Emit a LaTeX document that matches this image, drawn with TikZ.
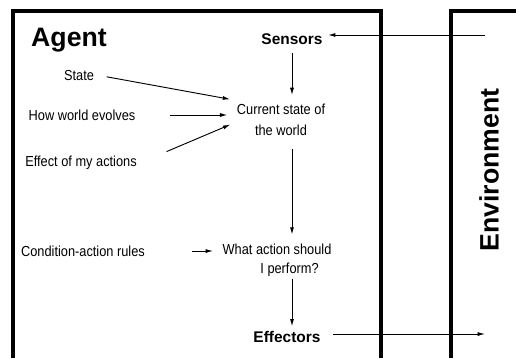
\documentclass[tikz,border=0pt]{standalone}
\usepackage{fontspec}
\setmainfont{Liberation Sans}
\newfontfamily\narrowfont{Liberation Sans}[FakeStretch=0.88]
\usetikzlibrary{arrows.meta,calc,positioning}

\begin{document}
\begin{tikzpicture}[x=0.75pt,y=-0.75pt,>={Latex[length=5.5pt,width=3pt]},
  wall/.style={line width=2.3pt},
  flow/.style={line width=0.7pt,->},
  label/.style={inner sep=2pt,font=\narrowfont\fontsize{10.9}{14.5}\selectfont},
  part/.style={inner sep=2pt,font=\fontsize{11.6}{14}\selectfont\bfseries},
  title/.style={inner sep=0pt,font=\fontsize{20}{24}\selectfont\bfseries}]

\useasboundingbox (0,0) rectangle (516,358);

\coordinate (a0) at (13,358);
\coordinate (a1) at (13,11);
\coordinate (a2) at (381,11);
\coordinate (a3) at (381,358);
\coordinate (e0) at (451,358);
\coordinate (e1) at (451,11);
\coordinate (e2) at (530,11);
\coordinate (envin) at (485,35);
\coordinate (envout) at (485,334);

\draw[wall] (a0)--(a1)--(a2)--(a3);
\draw[wall] (e0)--(e1)--(e2);

\node[title] (agent) at (69,40) {Agent};
\node[title,rotate=90] (env) at (489,170) {Environment};

\node[part] (sensors) at (292,39) {Sensors};
\node[label,align=center] (current) at (281,120) {Current state of\\[1.5pt]the world};
\node[label] (state) at (79,75) {State};
\node[label] (evolve) at (82,115) {How world evolves};
\node[label] (effect) at (81,163) {Effect of my actions};
\node[label] (rules) at (83,251) {Condition-action rules};
\node[label,align=left] (action) at (277,260) {What action should\\\hspace*{2.6em}I perform?};
\node[part] (effectors) at (287,337) {Effectors};

\draw[flow,shorten >=2pt] (envin) -- (envin -| sensors.east);
\draw[flow,shorten <=4.5pt,shorten >=4.5pt] (sensors.south) -- (sensors.south |- current.north);
\draw[flow,shorten <=7.5pt,shorten >=3pt] (state.east) -- ([yshift=15pt]current.west);
\draw[flow,shorten <=23.5pt,shorten >=5pt] (evolve.east) -- ([yshift=3.75pt]current.west);
\draw[flow,shorten <=22pt,shorten >=3pt] (effect.east) -- ([yshift=-2.25pt]current.west);
\draw[flow,shorten <=7.5pt,shorten >=4.5pt] (sensors.south |- current.south) -- (sensors.south |- action.north);
\draw[flow,shorten <=33pt,shorten >=5pt] (rules.east) -- (action.west |- rules.east);
\draw[flow,shorten >=1.5pt] (sensors.south |- action.south) -- (sensors.south |- effectors.north);
\draw[flow,shorten <=7.5pt] (effectors.east |- envout) -- (envout);
\end{tikzpicture}
\end{document}
